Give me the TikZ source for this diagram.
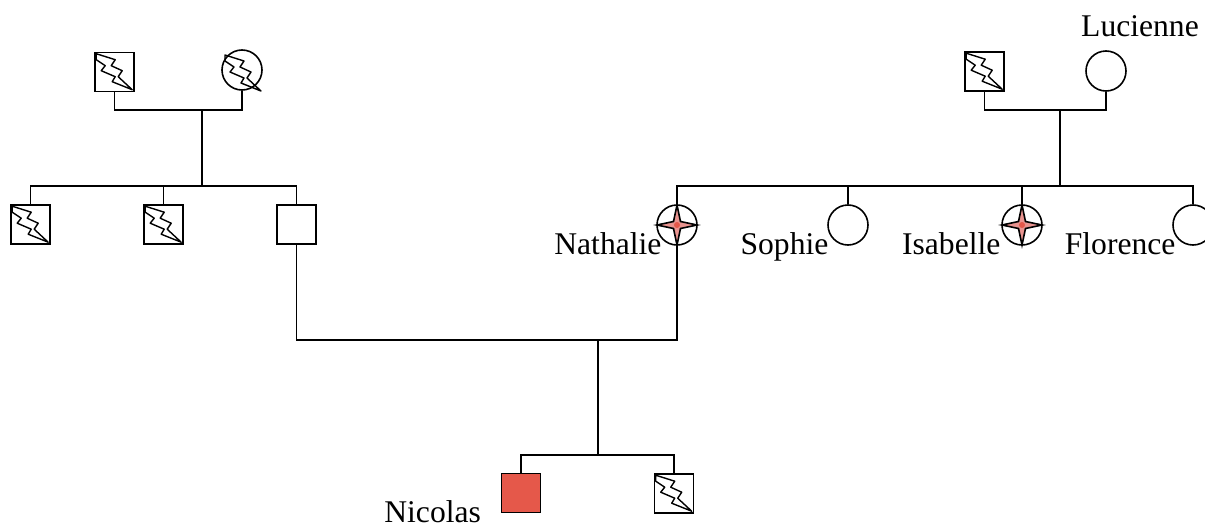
\documentclass[tikz,border=0pt]{standalone}
\usepackage{fontspec}
\setmainfont{Liberation Serif}
\usepackage{tikz}
\usetikzlibrary{calc}
\definecolor{affected}{HTML}{E5584A}
\definecolor{starred}{HTML}{E9938F}

% lightning bolt, drawn from the top left corner of a symbol
\newcommand{\bolt}[1]{\draw[line width=0.7pt,line join=round,shift={(#1)}] (2,2) -- (21,8) -- (17,14) -- (28,19) -- (24,25) -- (38,38) -- (18,30) -- (21,25) -- (7,19) -- (11,14) -- (2,8) -- cycle;}
% four pointed star inside a circle
\newcommand{\compass}[1]{\filldraw[fill=starred,line width=0.8pt,shift={(#1)}] (0,-20) -- (3.5,-3.5) -- (20,0) -- (3.5,3.5) -- (0,20) -- (-3.5,3.5) -- (-20,0) -- (-3.5,-3.5) -- cycle;
        \fill[affected,shift={(#1)}] (0,0) circle (3);}

\begin{document}
\begin{tikzpicture}[x=0.5pt,y=-0.5pt,line width=0.8pt,
        male/.style={draw,rectangle,minimum size=19.5pt,inner sep=0pt},
        female/.style={draw,circle,minimum size=20pt,inner sep=0pt},
        lab/.style={font=\fontsize{15.8}{18}\selectfont,inner sep=0pt}]
        \useasboundingbox (0,0) rectangle (1205,530);

        % left grandparents
        \node[male] (gfl) at (114.5,72) {};
        \node[female] (gml) at (242,70) {};
        \bolt{gfl.north west}
        \bolt{$(gml)+(-19,-17)$}

        % right grandparents
        \node[male] (gfr) at (984.5,71.5) {};
        \node[female] (luc) at (1106,71) {};
        \node[lab] at (1140,26) {Lucienne};
        \bolt{gfr.north west}

        % father and his brothers
        \node[male] (unc1) at (30.5,224.5) {};
        \node[male] (unc2) at (163.5,224.5) {};
        \node[male] (dad) at (296.5,224.5) {};
        \bolt{unc1.north west}
        \bolt{unc2.north west}

        % mother and her sisters
        \node[female] (nath) at (677,225) {};
        \node[female] (soph) at (848,225) {};
        \node[female] (isab) at (1022,225) {};
        \node[female] (flor) at (1193,225) {};
        \compass{nath}
        \compass{isab}
        \node[lab,anchor=base east] at ($(nath.west)+(6,29)$) {Nathalie};
        \node[lab,anchor=base east] at ($(soph.west)+(2,29)$) {Sophie};
        \node[lab,anchor=base east] at ($(isab.west)+(0,29)$) {Isabelle};
        \node[lab,anchor=base east] at ($(flor.west)+(4,29)$) {Florence};

        % children
        \node[male,fill=affected] (nico) at (521,493) {};
        \node[male] (bro) at (674,493.5) {};
        \bolt{bro.north west}
        \node[lab,anchor=base east] at ($(nico.west)+(-19,29)$) {Nicolas};

        \coordinate (ml) at (202,110);
        \coordinate (sl) at (202,186);
        \coordinate (mr) at (1060,110);
        \coordinate (sr) at (1060,186);
        \coordinate (mp) at (598,340);
        \coordinate (sk) at (598,455);

        \draw (gfl) |- (ml) -| (gml);
        \draw (ml) -- (sl);
        \draw (unc1) |- (sl) -| (dad);
        \draw (unc2) -- (unc2 |- sl);

        \draw (gfr) |- (mr) -| (luc);
        \draw (mr) -- (sr);
        \draw (nath) |- (sr) -| (flor);
        \draw (soph) -- (soph |- sr);
        \draw (isab) -- (isab |- sr);

        \draw (dad) |- (mp) -| (nath);
        \draw (mp) -- (sk);
        \draw (nico) |- (sk) -| (bro);
\end{tikzpicture}
\end{document}
